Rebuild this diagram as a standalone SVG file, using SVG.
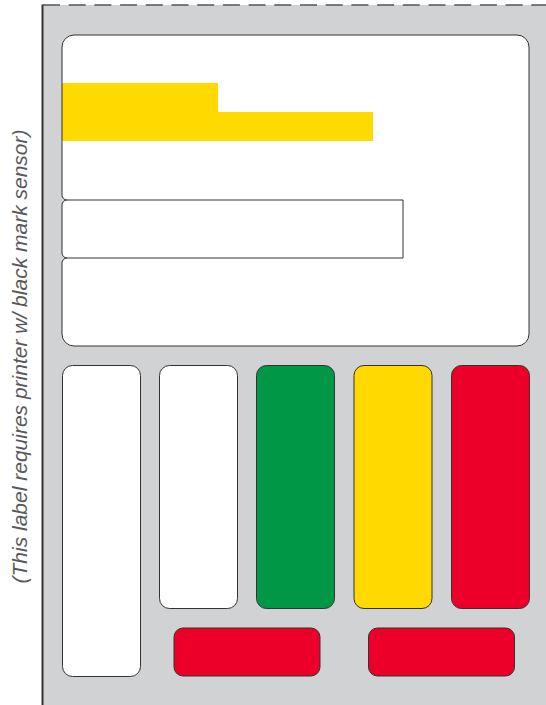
<svg xmlns="http://www.w3.org/2000/svg" width="546" height="705" viewBox="0 0 546 705">
<style>
.box{stroke:#333;stroke-width:1}
.white{fill:#fff}
.green{fill:#009846}
.yellow{fill:#FFD900}
.red{fill:#EC0029}
.note{font-family:"Liberation Sans",Arial,sans-serif;font-style:italic;font-size:21px;fill:#58595B}
</style>
<rect width="546" height="705" fill="#fff"/>
<g id="sheet">
<rect x="42" y="5" width="504" height="700" fill="#D1D2D4"/>
<line x1="43" y1="5" x2="546" y2="5" stroke="#555" stroke-width="1.5" stroke-dasharray="17 8.7"/>
<line x1="42.5" y1="4.5" x2="42.5" y2="705" stroke="#333" stroke-width="2"/>
</g>
<g id="top-panel">
<path id="panelShape" d="M74 35H517A12 12 0 0 1 529 47V334A12 12 0 0 1 517 346H74A12 12 0 0 1 62 334V263A5 5 0 0 1 67 258A5 5 0 0 1 62 253V205A5 5 0 0 1 67 200A5 5 0 0 1 62 195V47A12 12 0 0 1 74 35Z" fill="#fff"/>
<polygon class="yellow" points="62,83 218,83 218,112 373,112 373,141 62,141"/>
<path d="M74 35H517A12 12 0 0 1 529 47V334A12 12 0 0 1 517 346H74A12 12 0 0 1 62 334V263A5 5 0 0 1 67 258A5 5 0 0 1 62 253V205A5 5 0 0 1 67 200A5 5 0 0 1 62 195V47A12 12 0 0 1 74 35Z" fill="none" class="box"/>
<polyline points="67,200 403,200 403,258 67,258" fill="none" class="box"/>
</g>
<g id="col1"><rect class="box white" x="62.5" y="365.5" width="78" height="311" rx="10"/></g>
<g id="col2"><rect class="box white" x="159.5" y="365.5" width="78" height="243" rx="10"/></g>
<g id="col3"><rect class="box green" x="256.5" y="365.5" width="78" height="243" rx="10"/></g>
<g id="col4"><rect class="box yellow" x="354" y="365.5" width="78" height="243" rx="10"/></g>
<g id="col5"><rect class="box red" x="451.5" y="365.5" width="78" height="243" rx="10"/></g>
<g id="red1"><rect class="box red" x="174" y="628" width="146" height="48" rx="9"/></g>
<g id="red2"><rect class="box red" x="368.5" y="628" width="146" height="48" rx="9"/></g>
<g id="note"><text class="note" transform="translate(27,356.5) rotate(-90)" text-anchor="middle">(This label requires printer w/ black mark sensor)</text></g>
</svg>
